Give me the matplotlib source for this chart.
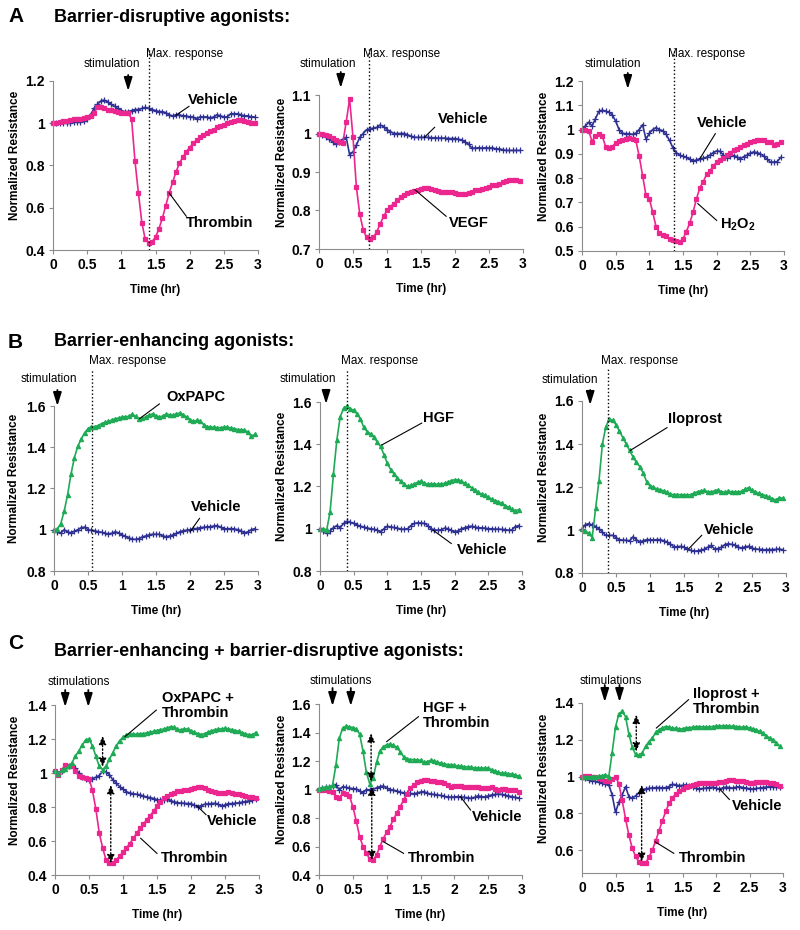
import numpy as np
import matplotlib.pyplot as plt

plt.rcParams['font.family'] = ['Liberation Sans', 'DejaVu Sans']
plt.rcParams['mathtext.fontset'] = 'custom'
plt.rcParams['mathtext.rm'] = 'Liberation Sans'
plt.rcParams['mathtext.bf'] = 'Liberation Sans:bold'

# time axis (hr), one reading every 0.05 hr
time_hr = np.round(np.arange(0, 2.96, 0.05), 2)

# ---- A: barrier-disruptive agonists ----
a1_vehicle = [1.00, 1.00, 1.00, 1.00, 1.00, 1.00, 1.005, 1.005, 1.005, 1.01,
              1.02, 1.04, 1.07, 1.09, 1.105, 1.11, 1.10, 1.09, 1.08, 1.07,
              1.06, 1.055, 1.055, 1.06, 1.065, 1.065, 1.07, 1.075, 1.07, 1.065,
              1.06, 1.055, 1.055, 1.05, 1.04, 1.035, 1.04, 1.04, 1.035, 1.035,
              1.03, 1.03, 1.02, 1.03, 1.03, 1.03, 1.025, 1.03, 1.04, 1.035,
              1.03, 1.03, 1.045, 1.045, 1.045, 1.04, 1.035, 1.035, 1.03, 1.03]
a1_thrombin = [1.00, 1.00, 1.005, 1.01, 1.01, 1.015, 1.02, 1.02, 1.02, 1.025,
               1.03, 1.035, 1.05, 1.075, 1.075, 1.07, 1.065, 1.065, 1.06, 1.055,
               1.05, 1.05, 1.05, 1.02, 0.82, 0.67, 0.53, 0.45, 0.435, 0.44,
               0.46, 0.50, 0.55, 0.61, 0.67, 0.72, 0.77, 0.81, 0.84, 0.865,
               0.885, 0.905, 0.92, 0.935, 0.945, 0.955, 0.965, 0.97, 0.98, 0.985,
               0.99, 1.0, 1.005, 1.01, 1.015, 1.015, 1.01, 1.005, 1.0, 1.0]
a2_vehicle = [1.0, 0.995, 0.99, 0.985, 0.978, 0.972, 0.978, 0.985, 0.99, 0.945,
              0.952, 0.97, 0.99, 1.0, 1.01, 1.012, 1.014, 1.016, 1.022, 1.018,
              1.01, 1.005, 1.0, 1.0, 1.0, 1.0, 0.997, 0.993, 0.99, 0.99,
              0.99, 0.99, 0.99, 0.989, 0.989, 0.988, 0.988, 0.988, 0.987, 0.987,
              0.987, 0.985, 0.983, 0.978, 0.972, 0.962, 0.962, 0.963, 0.962, 0.963,
              0.962, 0.963, 0.96, 0.96, 0.958, 0.956, 0.956, 0.956, 0.956, 0.956]
a2_vegf = [1.0, 0.998, 0.996, 0.993, 0.988, 0.983, 0.978, 0.975, 1.03, 1.09,
           0.99, 0.86, 0.79, 0.75, 0.73, 0.727, 0.73, 0.745, 0.765, 0.785,
           0.80, 0.81, 0.818, 0.826, 0.835, 0.84, 0.845, 0.848, 0.851, 0.854,
           0.856, 0.858, 0.858, 0.855, 0.852, 0.85, 0.848, 0.848, 0.848, 0.847,
           0.845, 0.844, 0.843, 0.843, 0.845, 0.849, 0.852, 0.854, 0.856, 0.858,
           0.862, 0.865, 0.867, 0.87, 0.873, 0.876, 0.878, 0.879, 0.878, 0.876]
a3_vehicle = [1.0, 1.015, 1.03, 1.015, 1.045, 1.075, 1.08, 1.075, 1.072, 1.06,
              1.035, 1.0, 0.985, 0.983, 0.983, 0.98, 0.985, 1.0, 1.02, 0.96,
              0.985, 1.0, 1.008, 1.0, 0.995, 0.98, 0.955, 0.925, 0.905, 0.895,
              0.89, 0.886, 0.878, 0.87, 0.875, 0.88, 0.882, 0.886, 0.895, 0.905,
              0.912, 0.91, 0.895, 0.884, 0.89, 0.893, 0.888, 0.88, 0.888, 0.895,
              0.903, 0.908, 0.905, 0.9, 0.89, 0.878, 0.866, 0.866, 0.868, 0.885]
a3_h2o2 = [1.0, 0.998, 0.995, 0.95, 0.975, 0.98, 0.975, 0.93, 0.925, 0.93,
           0.945, 0.952, 0.957, 0.962, 0.965, 0.96, 0.955, 0.89, 0.81, 0.73,
           0.715, 0.66, 0.6, 0.575, 0.565, 0.56, 0.55, 0.545, 0.54, 0.538,
           0.55, 0.58, 0.615, 0.66, 0.715, 0.76, 0.785, 0.815, 0.83, 0.85,
           0.865, 0.873, 0.884, 0.894, 0.905, 0.915, 0.922, 0.928, 0.935, 0.942,
           0.948, 0.953, 0.955, 0.956, 0.955, 0.95, 0.947, 0.935, 0.94, 0.95]

# ---- B: barrier-enhancing agonists ----
b1_oxpapc = [1.0, 1.005, 1.03, 1.09, 1.17, 1.27, 1.35, 1.405, 1.44, 1.47,
             1.49, 1.5, 1.5, 1.505, 1.515, 1.52, 1.525, 1.532, 1.538, 1.542,
             1.546, 1.548, 1.55, 1.56, 1.55, 1.535, 1.54, 1.548, 1.556, 1.562,
             1.552, 1.546, 1.552, 1.56, 1.558, 1.554, 1.562, 1.566, 1.558, 1.547,
             1.532, 1.525, 1.53, 1.528, 1.51, 1.5, 1.498, 1.497, 1.495, 1.495,
             1.497, 1.498, 1.493, 1.49, 1.486, 1.485, 1.483, 1.475, 1.453, 1.462]
b1_vehicle = [1.0, 0.99, 0.985, 1.0, 0.99, 0.985, 0.993, 1.0, 1.01, 1.013,
              1.0, 0.997, 0.995, 0.99, 0.988, 0.982, 0.98, 0.983, 0.99, 0.985,
              0.975, 0.968, 0.96, 0.955, 0.953, 0.957, 0.965, 0.97, 0.975, 0.978,
              0.978, 0.978, 0.97, 0.966, 0.97, 0.975, 0.982, 0.99, 0.995, 0.998,
              1.0, 1.005, 1.006, 1.01, 1.012, 1.014, 1.015, 1.018, 1.02, 1.012,
              1.005, 1.005, 1.006, 1.004, 1.0, 0.995, 0.985, 0.99, 1.0, 1.005]
b2_hgf = [1.0, 1.0, 0.995, 1.08, 1.26, 1.42, 1.53, 1.57, 1.58, 1.568,
          1.56, 1.545, 1.52, 1.48, 1.46, 1.45, 1.435, 1.41, 1.39, 1.35,
          1.31, 1.28, 1.26, 1.24, 1.225, 1.21, 1.2, 1.205, 1.212, 1.22,
          1.225, 1.215, 1.21, 1.212, 1.212, 1.21, 1.212, 1.215, 1.22, 1.228,
          1.232, 1.23, 1.225, 1.215, 1.205, 1.195, 1.183, 1.172, 1.163, 1.158,
          1.15, 1.14, 1.133, 1.128, 1.12, 1.11, 1.102, 1.092, 1.085, 1.09]
b2_vehicle = [1.0, 0.99, 0.978, 0.99, 1.005, 1.015, 1.005, 1.025, 1.035, 1.03,
              1.025, 1.018, 1.012, 1.008, 1.004, 1.0, 0.998, 0.993, 0.985, 1.0,
              1.012, 1.008, 1.006, 1.003, 0.998, 0.998, 1.0, 1.015, 1.025, 1.028,
              1.027, 1.025, 1.015, 1.0, 0.995, 0.993, 0.995, 1.003, 1.0, 0.992,
              0.985, 0.99, 1.0, 1.005, 1.01, 1.012, 1.008, 1.005, 1.004, 1.003,
              1.0, 1.0, 0.998, 0.998, 0.997, 0.996, 0.993, 0.995, 1.01, 1.015]
b3_iloprost = [1.005, 0.995, 0.985, 0.965, 1.1, 1.23, 1.4, 1.48, 1.515, 1.51,
               1.49, 1.46, 1.43, 1.4, 1.37, 1.34, 1.315, 1.295, 1.265, 1.225,
               1.205, 1.2, 1.19, 1.188, 1.182, 1.175, 1.166, 1.165, 1.165, 1.164,
               1.163, 1.162, 1.165, 1.172, 1.178, 1.182, 1.184, 1.178, 1.176, 1.183,
               1.186, 1.178, 1.176, 1.18, 1.178, 1.177, 1.178, 1.18, 1.19, 1.197,
               1.185, 1.178, 1.17, 1.165, 1.16, 1.152, 1.145, 1.14, 1.15, 1.148]
b3_vehicle = [1.005, 1.025, 1.03, 1.022, 1.015, 1.006, 0.99, 0.975, 0.975, 0.975,
              0.965, 0.955, 0.953, 0.952, 0.95, 0.968, 0.955, 0.944, 0.95, 0.955,
              0.955, 0.953, 0.955, 0.955, 0.95, 0.944, 0.935, 0.922, 0.922, 0.924,
              0.92, 0.91, 0.905, 0.901, 0.903, 0.907, 0.91, 0.92, 0.928, 0.912,
              0.913, 0.92, 0.932, 0.936, 0.933, 0.93, 0.92, 0.916, 0.922, 0.924,
              0.915, 0.912, 0.91, 0.909, 0.908, 0.909, 0.909, 0.91, 0.912, 0.908]

# ---- C: enhancing + disruptive ----
c1_combo = [1.01, 0.995, 1.015, 1.025, 1.04, 1.06, 1.1, 1.13, 1.165, 1.195,
            1.2, 1.16, 1.1, 1.04, 1.02, 1.04, 1.08, 1.12, 1.16, 1.19,
            1.21, 1.225, 1.228, 1.228, 1.228, 1.23, 1.232, 1.236, 1.24, 1.245,
            1.25, 1.255, 1.258, 1.265, 1.272, 1.268, 1.258, 1.253, 1.26, 1.258,
            1.248, 1.24, 1.232, 1.226, 1.232, 1.24, 1.248, 1.255, 1.258, 1.26,
            1.262, 1.26, 1.255, 1.25, 1.245, 1.238, 1.23, 1.226, 1.224, 1.238]
c1_vehicle = [1.01, 0.995, 1.01, 1.03, 1.04, 1.045, 1.03, 1.0, 0.975, 0.965,
              0.958, 0.965, 0.975, 0.985, 1.01, 1.005, 0.99, 0.96, 0.94, 0.92,
              0.905, 0.89, 0.882, 0.878, 0.875, 0.871, 0.865, 0.858, 0.855, 0.85,
              0.843, 0.84, 0.843, 0.845, 0.838, 0.83, 0.826, 0.823, 0.822, 0.82,
              0.82, 0.81, 0.802, 0.808, 0.816, 0.818, 0.82, 0.822, 0.815, 0.806,
              0.812, 0.82, 0.82, 0.822, 0.825, 0.828, 0.832, 0.836, 0.84, 0.848]
c1_thrombin = [1.01, 0.99, 1.02, 1.045, 1.04, 1.04, 1.01, 0.985, 0.975, 0.97,
               0.965, 0.9, 0.79, 0.65, 0.56, 0.49, 0.47, 0.47, 0.49, 0.51,
               0.535, 0.56, 0.585, 0.615, 0.645, 0.675, 0.7, 0.725, 0.75, 0.775,
               0.805, 0.832, 0.855, 0.866, 0.876, 0.885, 0.892, 0.896, 0.898, 0.9,
               0.905, 0.91, 0.915, 0.918, 0.91, 0.9, 0.893, 0.89, 0.885, 0.88,
               0.882, 0.886, 0.885, 0.878, 0.875, 0.87, 0.865, 0.86, 0.857, 0.852]
c2_combo = [1.005, 1.012, 1.018, 1.018, 1.03, 1.17, 1.36, 1.43, 1.445, 1.44,
            1.435, 1.425, 1.39, 1.27, 1.12, 1.04, 1.08, 1.19, 1.27, 1.3,
            1.315, 1.318, 1.31, 1.295, 1.265, 1.23, 1.215, 1.21, 1.21, 1.208,
            1.205, 1.19, 1.195, 1.205, 1.2, 1.192, 1.185, 1.18, 1.175, 1.172,
            1.17, 1.165, 1.162, 1.16, 1.158, 1.155, 1.152, 1.15, 1.148, 1.152,
            1.148, 1.14, 1.13, 1.12, 1.115, 1.113, 1.112, 1.108, 1.102, 1.095]
c2_vehicle = [1.005, 1.01, 1.015, 1.02, 1.025, 1.035, 0.995, 1.02, 1.015, 1.01,
              1.005, 1.005, 0.99, 0.975, 1.0, 0.998, 1.0, 1.012, 1.02, 1.025,
              1.01, 1.0, 0.995, 0.99, 0.982, 0.976, 0.974, 0.972, 0.97, 0.975,
              0.982, 0.985, 0.975, 0.968, 0.965, 0.962, 0.958, 0.952, 0.948, 0.946,
              0.948, 0.95, 0.946, 0.945, 0.942, 0.938, 0.945, 0.955, 0.95, 0.948,
              0.955, 0.962, 0.965, 0.968, 0.965, 0.96, 0.955, 0.95, 0.945, 0.94]
c2_thrombin = [1.0, 0.998, 0.995, 0.99, 0.985, 0.95, 0.94, 0.975, 0.97, 0.955,
               0.88, 0.78, 0.67, 0.6, 0.555, 0.51, 0.505, 0.54, 0.6, 0.655,
               0.7, 0.74, 0.79, 0.835, 0.88, 0.925, 0.97, 1.01, 1.035, 1.05,
               1.06, 1.065, 1.066, 1.063, 1.06, 1.055, 1.052, 1.048, 1.035, 1.02,
               1.025, 1.025, 1.022, 1.02, 1.018, 1.015, 1.017, 1.02, 1.012, 1.008,
               1.012, 1.015, 1.005, 1.0, 1.002, 1.005, 1.0, 0.998, 0.995, 0.985]
c3_combo = [1.0, 0.998, 0.998, 0.998, 1.0, 1.002, 1.005, 1.01, 1.0, 1.13,
            1.27, 1.34, 1.355, 1.325, 1.23, 1.16, 1.12, 1.115, 1.13, 1.165,
            1.19, 1.21, 1.24, 1.255, 1.265, 1.272, 1.268, 1.264, 1.262, 1.258,
            1.26, 1.264, 1.266, 1.268, 1.27, 1.272, 1.27, 1.268, 1.27, 1.272,
            1.274, 1.276, 1.276, 1.276, 1.275, 1.273, 1.272, 1.27, 1.268, 1.27,
            1.264, 1.26, 1.255, 1.245, 1.235, 1.222, 1.21, 1.2, 1.185, 1.165]
c3_vehicle = [1.0, 0.99, 0.983, 0.978, 0.973, 0.968, 0.965, 0.96, 0.955, 0.9,
              0.805, 0.86, 0.9, 0.945, 0.89, 0.882, 0.895, 0.912, 0.928, 0.933,
              0.936, 0.938, 0.94, 0.94, 0.938, 0.94, 0.945, 0.958, 0.955, 0.95,
              0.952, 0.955, 0.948, 0.942, 0.938, 0.932, 0.935, 0.937, 0.94, 0.942,
              0.936, 0.932, 0.938, 0.942, 0.94, 0.937, 0.942, 0.945, 0.94, 0.937,
              0.934, 0.932, 0.935, 0.937, 0.94, 0.942, 0.944, 0.945, 0.943, 0.942]
c3_thrombin = [1.0, 1.002, 1.003, 1.0, 0.998, 0.99, 0.985, 0.978, 0.973, 0.985,
               1.0, 0.96, 0.87, 0.77, 0.68, 0.61, 0.565, 0.535, 0.528, 0.53,
               0.56, 0.6, 0.65, 0.705, 0.76, 0.81, 0.855, 0.885, 0.905, 0.92,
               0.933, 0.942, 0.948, 0.955, 0.96, 0.962, 0.964, 0.965, 0.962, 0.963,
               0.964, 0.968, 0.972, 0.978, 0.982, 0.98, 0.978, 0.976, 0.973, 0.968,
               0.962, 0.965, 0.968, 0.97, 0.972, 0.968, 0.964, 0.962, 0.96, 0.95]

BLUE = '#2E3192'
PINK = '#EC268F'
GREEN = '#1FAA55'
GREY = '#8C8C8C'

W, H = 800, 930
fig = plt.figure(figsize=(W / 100, H / 100), dpi=100)


def fy(py):
    return 1 - py / H


def make_panel(box, ylim, yticks, series, ylab_x):
    x0, y0, x1, y1 = box
    ax = fig.add_axes([x0 / W, 1 - y1 / H, (x1 - x0) / W, (y1 - y0) / H])
    for vals, color, marker, ms in series:
        ax.plot(time_hr, vals, color=color, lw=1.2, marker=marker, ms=ms,
                mew=0.9, clip_on=False)
    ax.set_xlim(0, 3)
    ax.set_ylim(*ylim)
    xt = [0, 0.5, 1, 1.5, 2, 2.5, 3]
    ax.set_xticks(xt)
    ax.set_xticklabels(['%g' % v for v in xt], fontweight='bold')
    ax.set_yticks(yticks)
    ax.set_yticklabels(['%g' % v for v in yticks], fontweight='bold')
    ax.tick_params(labelsize=10, length=3, width=0.8, color=GREY, pad=3)
    for s in ['top', 'right']:
        ax.spines[s].set_visible(False)
    for s in ['left', 'bottom']:
        ax.spines[s].set_color(GREY)
        ax.spines[s].set_linewidth(0.8)
    fig.text(ylab_x / W, fy((y0 + y1) / 2 - 10), 'Normalized Resistance', rotation=90,
             ha='center', va='center', fontsize=8.5, fontweight='bold')
    fig.text((x0 + x1) / 2 / W, fy(y1 + 40), 'Time (hr)', ha='center', va='center',
             fontsize=8.5, fontweight='bold')
    return ax


def stim(ax, times, tail_py, tip_py, text, text_px, text_py):
    for tt in times:
        ax.annotate('', xy=(tt, fy(tip_py)), xytext=(tt, fy(tail_py)),
                    xycoords=('data', 'figure fraction'),
                    textcoords=('data', 'figure fraction'),
                    arrowprops=dict(arrowstyle='-|>,head_length=0.8,head_width=0.25',
                                    color='black', lw=1.3, shrinkA=0, shrinkB=0))
    fig.text(text_px / W, fy(text_py), text, ha='center', va='center', fontsize=8.5)


def max_line(ax, box, tt, top_py, text_px, text_py):
    x0, y0, x1, y1 = box
    ax.axvline(tt, ymin=0, ymax=(y1 - top_py) / (y1 - y0), color='black',
               ls=':', lw=1, clip_on=False)
    fig.text(text_px / W, fy(text_py), 'Max. response', ha='left', va='center', fontsize=8.5)


def label(ax, text, tx, ty, leader):
    ax.text(tx, ty, text, fontsize=10.5, fontweight='bold', ha='left', va='center',
            linespacing=1.1)
    (xa, ya), (xb, yb) = leader
    ax.plot([xa, xb], [ya, yb], color='black', lw=0.8, clip_on=False)


def gap_arrow(ax, tt, ytop, ybot):
    ax.annotate('', xy=(tt, ytop), xytext=(tt, ybot),
                arrowprops=dict(arrowstyle='<|-|>,head_length=0.5,head_width=0.22',
                                color='black', lw=1, ls=':', shrinkA=0, shrinkB=0))


# section headings
fig.text(8 / W, fy(17), 'A', fontsize=15, fontweight='bold', va='center')
fig.text(54 / W, fy(17), 'Barrier-disruptive agonists:', fontsize=13, fontweight='bold', va='center')
fig.text(8 / W, fy(342), 'B', fontsize=15, fontweight='bold', va='center')
fig.text(54 / W, fy(342), 'Barrier-enhancing agonists:', fontsize=13, fontweight='bold', va='center')
fig.text(8 / W, fy(643), 'C', fontsize=15, fontweight='bold', va='center')
fig.text(54 / W, fy(652), 'Barrier-enhancing + barrier-disruptive agonists:', fontsize=13,
         fontweight='bold', va='center')

# ---- row A ----
box = (53, 81, 258, 250)
ax = make_panel(box, (0.4, 1.2), [0.4, 0.6, 0.8, 1.0, 1.2],
                [(a1_vehicle, BLUE, '+', 4), (a1_thrombin, PINK, 's', 2.5)], 15)
stim(ax, [1.1], 75, 91, 'stimulation', 112, 64)
max_line(ax, box, 1.4, 48, 146, 54)
label(ax, 'Vehicle', 1.97, 1.109, [(1.8, 1.038), (1.99, 1.08)])
label(ax, 'Thrombin', 1.95, 0.526, [(1.7, 0.67), (1.95, 0.56)])

box = (319, 95, 523, 249)
ax = make_panel(box, (0.7, 1.1), [0.7, 0.8, 0.9, 1.0, 1.1],
                [(a2_vehicle, BLUE, '+', 4), (a2_vegf, PINK, 's', 2.5)], 282)
stim(ax, [0.32], 72, 88, 'stimulation', 328, 64)
max_line(ax, box, 0.73, 48, 363, 54)
label(ax, 'Vehicle', 1.75, 1.037, [(1.55, 0.99), (1.70, 1.016)])
label(ax, 'VEGF', 1.91, 0.767, [(1.41, 0.854), (1.87, 0.785)])

box = (582, 81, 784, 251)
ax = make_panel(box, (0.5, 1.2), [0.5, 0.6, 0.7, 0.8, 0.9, 1.0, 1.1, 1.2],
                [(a3_vehicle, BLUE, '+', 4), (a3_h2o2, PINK, 's', 2.5)], 544)
stim(ax, [0.68], 73, 89, 'stimulation', 613, 64)
max_line(ax, box, 1.36, 48, 668, 54)
label(ax, 'Vehicle', 1.7, 1.027, [(1.75, 0.88), (1.98, 0.983)])
label(ax, r'$\mathbf{H_2O_2}$', 2.05, 0.606, [(1.72, 0.695), (2.0, 0.626)])

# ---- row B ----
box = (54, 406, 258, 571)
ax = make_panel(box, (0.8, 1.6), [0.8, 1.0, 1.2, 1.4, 1.6],
                [(b1_vehicle, BLUE, '+', 4), (b1_oxpapc, GREEN, '^', 3)], 14)
stim(ax, [0.05], 390, 406, 'stimulation', 49, 379)
max_line(ax, box, 0.56, 369, 89, 361)
label(ax, 'OxPAPC', 1.65, 1.644, [(1.26, 1.539), (1.55, 1.61)])
label(ax, 'Vehicle', 2.01, 1.111, [(2.0, 0.99), (2.14, 1.055)])

box = (320, 402, 522, 571)
ax = make_panel(box, (0.8, 1.6), [0.8, 1.0, 1.2, 1.4, 1.6],
                [(b2_vehicle, BLUE, '+', 4), (b2_hgf, GREEN, '^', 3)], 282)
stim(ax, [0.09], 390, 404, 'stimulation', 308, 379)
max_line(ax, box, 0.4, 369, 341, 361)
label(ax, 'HGF', 1.53, 1.524, [(0.92, 1.397), (1.51, 1.5)])
label(ax, 'Vehicle', 2.03, 0.898, [(1.68, 0.993), (1.95, 0.93)])

box = (582, 401, 786, 573)
ax = make_panel(box, (0.8, 1.6), [0.8, 1.0, 1.2, 1.4, 1.6],
                [(b3_vehicle, BLUE, '+', 4), (b3_iloprost, GREEN, '^', 3)], 544)
stim(ax, [0.12], 390, 405, 'stimulation', 570, 380)
max_line(ax, box, 0.38, 369, 601, 361)
label(ax, 'Iloprost', 1.26, 1.518, [(0.71, 1.37), (1.25, 1.476)])
label(ax, 'Vehicle', 1.8, 0.998, [(1.57, 0.913), (1.76, 0.975)])

# ---- row C ----
box = (55, 705, 259, 875)
ax = make_panel(box, (0.4, 1.4), [0.4, 0.6, 0.8, 1.0, 1.2, 1.4],
                [(c1_vehicle, BLUE, '+', 4), (c1_thrombin, PINK, 's', 2.5),
                 (c1_combo, GREEN, '^', 3)], 15)
stim(ax, [0.15, 0.49], 690, 707, 'stimulations', 79, 682)
gap_arrow(ax, 0.7, 1.218, 1.037)
gap_arrow(ax, 0.82, 0.929, 0.469)
label(ax, 'OxPAPC +\nThrombin', 1.57, 1.395, [(1.03, 1.214), (1.49, 1.37)])
label(ax, 'Vehicle', 2.23, 0.718, [(2.08, 0.81), (2.22, 0.755)])
label(ax, 'Thrombin', 1.56, 0.498, [(1.26, 0.616), (1.5, 0.527)])

box = (319, 704, 522, 875)
ax = make_panel(box, (0.4, 1.6), [0.4, 0.6, 0.8, 1.0, 1.2, 1.4, 1.6],
                [(c2_vehicle, BLUE, '+', 4), (c2_thrombin, PINK, 's', 2.5),
                 (c2_combo, GREEN, '^', 3)], 282)
stim(ax, [0.2, 0.47], 688, 706, 'stimulations', 341, 681)
gap_arrow(ax, 0.77, 1.394, 1.055)
gap_arrow(ax, 0.78, 1.02, 0.505)
label(ax, 'HGF +\nThrombin', 1.53, 1.517, [(1.0, 1.336), (1.47, 1.511)])
label(ax, 'Vehicle', 2.26, 0.809, [(2.09, 0.95), (2.24, 0.856)])
label(ax, 'Thrombin', 1.31, 0.517, [(0.95, 0.634), (1.25, 0.552)])

box = (582, 703, 783, 873)
ax = make_panel(box, (0.475, 1.4), [0.6, 0.8, 1.0, 1.2, 1.4],
                [(c3_vehicle, BLUE, '+', 4), (c3_thrombin, PINK, 's', 2.5),
                 (c3_combo, GREEN, '^', 3)], 544)
stim(ax, [0.34, 0.56], 685, 702, 'stimulations', 611, 681)
gap_arrow(ax, 0.81, 1.336, 1.136)
gap_arrow(ax, 0.89, 0.955, 0.536)
label(ax, 'Iloprost +\nThrombin', 1.66, 1.408, [(1.11, 1.264), (1.59, 1.418)])
label(ax, 'Vehicle', 2.24, 0.84, [(2.06, 0.93), (2.2, 0.875)])
label(ax, 'Thrombin', 1.44, 0.555, [(1.09, 0.645), (1.37, 0.582)])

fig.savefig('out.png', dpi=100)
